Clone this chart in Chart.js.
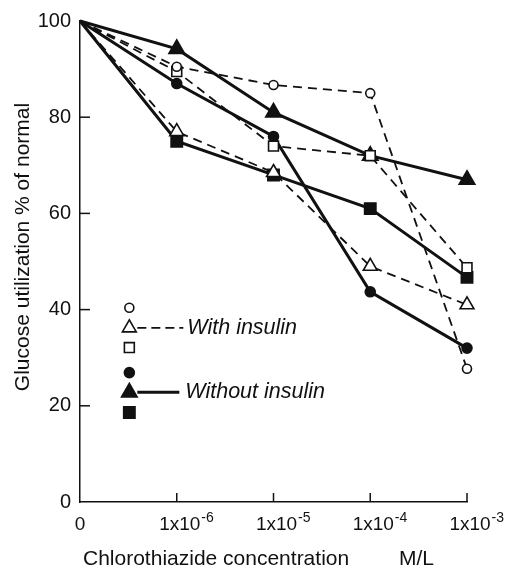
<!DOCTYPE html>
<html><head><meta charset="utf-8">
<script src="https://cdn.jsdelivr.net/npm/chart.js@4"></script>
<style>html,body{margin:0;padding:0;background:#fff}#wrap{width:514px;height:574px}</style>
</head><body><div id="wrap"><canvas id="c" width="514" height="574"></canvas></div>
<script>
const categories = ['0', '1x10-6', '1x10-5', '1x10-4', '1x10-3'];
const tickBase = ['0', '1x10', '1x10', '1x10', '1x10'];
const tickExponent = ['', '-6', '-5', '-4', '-3'];
const yTicks = [0, 20, 40, 60, 80, 100];
const withInsulinCircle = [100, 90.5, 86.7, 85, 27.7];
const withInsulinTriangle = [100, 77, 68.5, 49, 41];
const withInsulinSquare = [100, 89.5, 74, 72, 48.7];
const withoutInsulinCircle = [100, 87, 76, 43.7, 32];
const withoutInsulinTriangle = [100, 94.2, 81, 72, 67];
const withoutInsulinSquare = [100, 75, 68, 61, 46.7];
const legendLabels = ['With insulin', 'Without insulin'];
const yTitle = 'Glucose utilization % of normal';
const xTitle = 'Chlorothiazide concentration';
const xUnit = 'M/L';

const INK = '#111';
const FONT = '"Liberation Sans", Arial, sans-serif';

function ds(data, style, filled, dashed, r) {
  const radii = data.map((v, i) => i === 0 ? 0 : r);
  return {
    data: data,
    borderColor: INK,
    borderWidth: dashed ? 1.8 : 3,
    borderDash: dashed ? [9, 6] : [],
    pointStyle: style,
    pointRadius: radii,
    pointHoverRadius: radii,
    pointBorderWidth: 1.6,
    pointBorderColor: INK,
    pointBackgroundColor: filled ? INK : '#fff',
    tension: 0,
    fill: false,
    clip: false
  };
}

const overlay = {
  id: 'overlay',
  afterDraw(chart) {
    const ctx = chart.ctx;
    const xs = chart.scales.x, ys = chart.scales.y;
    ctx.save();
    ctx.strokeStyle = INK;
    ctx.fillStyle = INK;
    ctx.lineWidth = 1.5;
    const y0 = ys.getPixelForValue(0);
    const x0 = xs.getPixelForValue(0);
    for (let i = 1; i < categories.length; i++) {
      const px = xs.getPixelForValue(i);
      ctx.beginPath(); ctx.moveTo(px, y0); ctx.lineTo(px, y0 - 9); ctx.stroke();
    }
    yTicks.forEach(v => {
      if (v === 0 || v === 100) return;
      const py = ys.getPixelForValue(v);
      ctx.beginPath(); ctx.moveTo(x0, py); ctx.lineTo(x0 + 10, py); ctx.stroke();
    });
    ctx.textBaseline = 'middle';
    for (let i = 0; i < categories.length; i++) {
      const px = xs.getPixelForValue(i);
      ctx.font = '19px ' + FONT;
      const bw = ctx.measureText(tickBase[i]).width;
      let left = i === 0 ? px - bw / 2 : px - bw / 2 + 3;
      ctx.textAlign = 'left';
      ctx.fillText(tickBase[i], left, 525);
      if (tickExponent[i]) {
        ctx.font = '14px ' + FONT;
        ctx.fillText(tickExponent[i], left + bw + 1, 518);
      }
    }
    ctx.font = '21px ' + FONT;
    ctx.textAlign = 'left';
    ctx.fillText(xTitle, 83, 559);
    ctx.fillText(xUnit, 399, 559);
    ctx.save();
    ctx.translate(23, 247);
    ctx.rotate(-Math.PI / 2);
    ctx.textAlign = 'center';
    ctx.fillText(yTitle, 0, 0);
    ctx.restore();
    const lx = xs.getPixelForValue(0.51);
    const items = [
      [40.4, 'circle', false, 4.5], [36.2, 'triangle', false, 8], [32.1, 'rect', false, 7],
      [26.9, 'circle', true, 5], [22.8, 'triangle', true, 9], [18.6, 'rect', true, 8]
    ];
    items.forEach(it => {
      const py = ys.getPixelForValue(it[0]);
      ctx.fillStyle = it[2] ? INK : '#fff';
      ctx.strokeStyle = INK;
      ctx.lineWidth = 1.6;
      Chart.helpers.drawPoint(ctx, {pointStyle: it[1], radius: it[3], rotation: 0, borderWidth: 1.6}, lx, py);
    });
    ctx.strokeStyle = INK;
    let py = ys.getPixelForValue(36.2);
    ctx.lineWidth = 1.8; ctx.setLineDash([9, 5]);
    ctx.beginPath(); ctx.moveTo(lx + 8, py); ctx.lineTo(lx + 54, py); ctx.stroke();
    py = ys.getPixelForValue(22.8);
    ctx.lineWidth = 3; ctx.setLineDash([]);
    ctx.beginPath(); ctx.moveTo(lx + 8, py); ctx.lineTo(lx + 50, py); ctx.stroke();
    ctx.fillStyle = INK;
    ctx.font = 'italic 21.5px ' + FONT;
    ctx.textAlign = 'left';
    ctx.fillText(legendLabels[0], lx + 58, ys.getPixelForValue(36.2));
    ctx.fillText(legendLabels[1], lx + 56, ys.getPixelForValue(22.8));
    ctx.restore();
  }
};

new Chart(document.getElementById('c'), {
  type: 'line',
  data: {
    labels: categories,
    datasets: [
      ds(withInsulinCircle, 'circle', false, true, 4.5),
      ds(withInsulinTriangle, 'triangle', false, true, 8),
      ds(withInsulinSquare, 'rect', false, true, 7),
      ds(withoutInsulinCircle, 'circle', true, false, 5),
      ds(withoutInsulinTriangle, 'triangle', true, false, 9),
      ds(withoutInsulinSquare, 'rect', true, false, 8)
    ]
  },
  options: {
    responsive: false,
    devicePixelRatio: 1,
    animation: false,
    events: [],
    layout: {padding: {top: 19, right: 47, left: 0, bottom: 0}},
    plugins: {legend: {display: false}, tooltip: {enabled: false}},
    scales: {
      x: {
        type: 'category',
        offset: false,
        grid: {display: false, drawTicks: false},
        border: {display: true, color: INK, width: 1.5},
        ticks: {display: false},
        afterFit(s) { s.height = 72; }
      },
      y: {
        min: 0, max: 100,
        afterBuildTicks(s) { s.ticks = yTicks.map(v => ({value: v})); },
        grid: {display: false, drawTicks: false},
        border: {display: true, color: INK, width: 1.5},
        ticks: {color: INK, padding: 9, font: {size: 20, family: FONT}},
        afterFit(s) { s.width = 80; }
      }
    }
  },
  plugins: [overlay]
});
</script></body></html>
